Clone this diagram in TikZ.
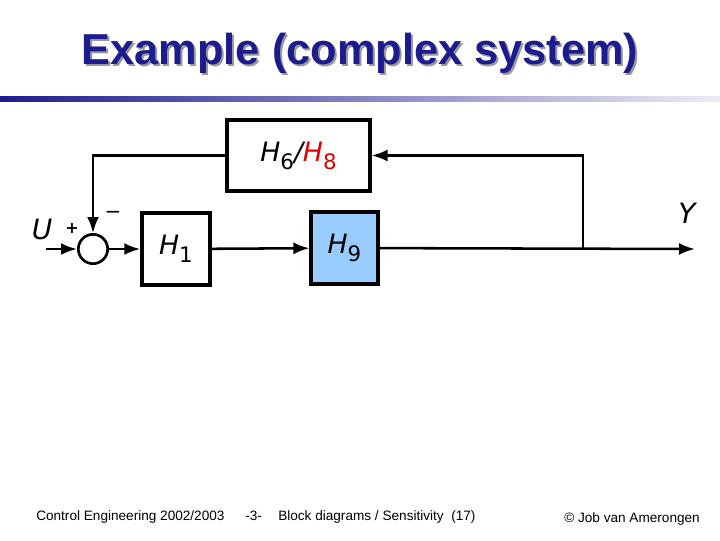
\documentclass[tikz,border=0pt]{standalone}
\usepackage{fontspec}
\setmainfont{Liberation Sans}
\newfontfamily\labelfont{DejaVu Sans}
\usetikzlibrary{arrows.meta}
\definecolor{TitleBlue}{HTML}{1C1C8E}
\definecolor{BlockBlue}{HTML}{99CCFF}
\definecolor{LabelRed}{HTML}{E00000}
\newcommand{\lowidx}[1]{\raisebox{-0.3em}{\upshape\fontsize{16pt}{16pt}\selectfont #1}}

\begin{document}
\begin{tikzpicture}[x=0.75pt,y=-0.75pt,
    blockbox/.style={draw, line width=2.6pt, inner sep=0pt, font=\labelfont\itshape\fontsize{20pt}{22pt}\selectfont},
    sigline/.style={line width=1.9pt, -{Latex[length=12pt,width=9pt]}},
    footer/.style={anchor=base west, inner sep=0pt, font=\fontsize{10.2pt}{12pt}\selectfont}]
    \useasboundingbox (0,0) rectangle (720,540);
    % title
    \node[text=black!40] (titleshadow) at (362,55) {\fontsize{32.5pt}{36pt}\selectfont\bfseries Example (complex system)};
    \node[text=TitleBlue] (title) at (360,53) {\fontsize{32.5pt}{36pt}\selectfont\bfseries Example (complex system)};
    \shade[left color=TitleBlue, right color=TitleBlue!8] (0,96) rectangle (720,101);

    % blocks
    \node[blockbox, minimum width=51pt, minimum height=54pt] (h1) at (176,249) {H\lowidx{1}};
    \node[blockbox, fill=BlockBlue, minimum width=50pt, minimum height=54pt] (h9) at (344.5,248) {H\lowidx{9}};
    \node[blockbox, minimum width=107pt, minimum height=53pt] (h68) at (298.5,155.5) {H\lowidx{6}/\textcolor{LabelRed}{H\lowidx{8}}};
    \node[draw, circle, line width=2pt, minimum size=22pt, inner sep=0pt] (sum) at (93,249) {};
    \coordinate (in) at (46,249);
    \coordinate (branch) at (583,249);
    \coordinate (out) at (695,249);

    % connectors
    \draw[sigline] (in) -- (sum);
    \draw[sigline] (sum) -- (h1);
    \draw[sigline] (h1) -- (h9);
    \draw[sigline] (h9) -- (out);
    \draw[sigline] (branch) |- (h68);
    \draw[sigline] (h68) -| (sum);

    % signal labels
    \node[font=\labelfont\itshape\fontsize{21pt}{24pt}\selectfont] (ulabel) at (42,229) {U};
    \node[font=\labelfont\itshape\fontsize{21pt}{24pt}\selectfont] (ylabel) at (687,213) {Y};
    \node[font=\labelfont\bfseries\fontsize{12pt}{12pt}\selectfont] (plus) at (72,228) {+};
    \node[font=\labelfont\fontsize{15pt}{15pt}\selectfont] (minus) at (113,215) {−};

    % footer
    \node[footer] (course) at (36,520) {Control Engineering 2002/2003};
    \node[footer] (page) at (245,520) {-3-};
    \node[footer] (topic) at (278,520) {Block diagrams / Sensitivity\ \ (17)};
    \node[footer] (author) at (564,522) {© Job van Amerongen};
\end{tikzpicture}
\end{document}
